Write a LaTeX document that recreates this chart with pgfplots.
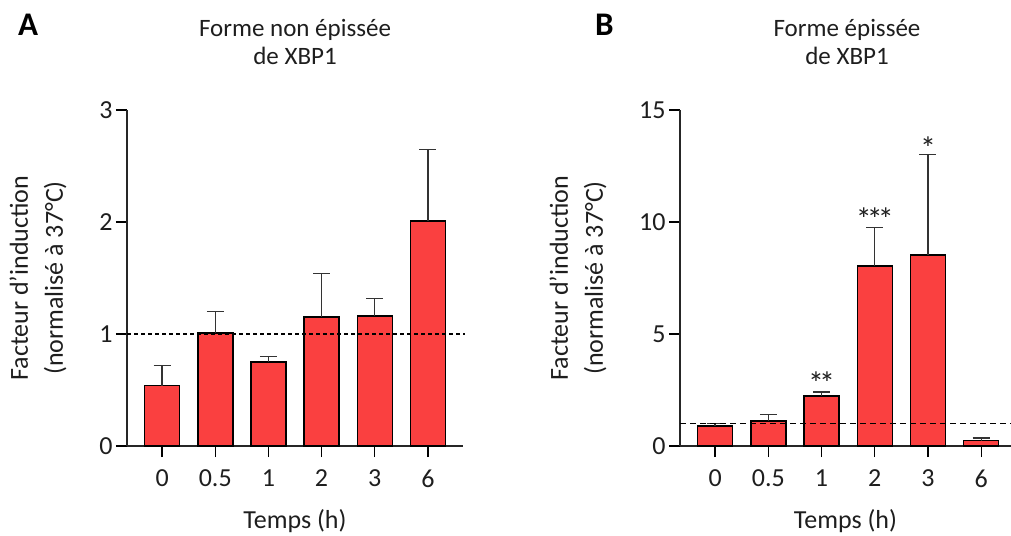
\documentclass[border=0pt]{standalone}
\usepackage{fontspec}
\setmainfont{Carlito}
\usepackage{pgfplots}
\pgfplotsset{compat=1.18}
\definecolor{barred}{RGB}{250,64,64}
\definecolor{txt}{RGB}{30,30,30}

\pgfplotstableread{
x y e
0 0.54 0.18
1 1.01 0.19
2 0.75 0.05
3 1.15 0.39
4 1.16 0.16
5 2.01 0.64
}\dataA
\pgfplotstableread{
x y e
0 0.89 0.12
1 1.12 0.29
2 2.23 0.18
3 8.04 1.71
4 8.53 4.47
5 0.24 0.12
}\dataB

\tikzset{starnode/.style={anchor=base, font=\fontsize{32}{32}\selectfont, text=txt}}

\pgfplotsset{
 myaxis/.style={
  scale only axis, height=336pt,
  axis x line*=bottom, axis y line*=left,
  axis line style={line width=1.4pt, black!85},
  tick align=outside,
  major tick length=11pt,
  tick style={line width=1.4pt, black},
  xtick={0,...,5}, xticklabels={0,0.5,1,2,3,6},
  xmin=-0.66, ymin=0,
  ticklabel style={font=\fontsize{26}{26}\selectfont, text=txt},
  /pgf/number format/assume math mode=true,
  xticklabel style={yshift=-9pt},
  xlabel={Temps (h)},
  xlabel style={at={(axis description cs:0.5,0)}, anchor=base, yshift=-82pt, font=\fontsize{26}{26}\selectfont, text=txt},
  ylabel={Facteur d'induction\\(normalisé à 37°C)},
  ylabel style={align=center, at={(axis description cs:0,0.5)}, anchor=south, font=\fontsize{26}{35}\selectfont, text=txt},
  clip=false,
 },
 mybar/.style={ybar, bar width=35pt, fill=barred, draw=black, line width=1.5pt,
   error bars/.cd, y dir=plus, y explicit,
   error bar style={line width=1.3pt, black!80},
   error mark options={rotate=90, mark size=8.5pt, line width=1.3pt, black!80}},
}

\begin{document}
\begin{tikzpicture}[x=1pt,y=1pt]
\useasboundingbox (0,0) rectangle (1011,535);

% Panel A
\begin{axis}[myaxis, at={(127pt,89pt)}, anchor=south west,
  width=336pt, xmax=5.66, ymax=3, ytick={0,1,2,3},
  ylabel style={yshift=57pt}]
\addplot[mybar] table[x=x,y=y,y error=e] {\dataA};
\addplot[black, line width=2pt, dash pattern=on 4pt off 3pt] coordinates {(-0.66,1) (5.7,1)};
\end{axis}

% Panel B
\begin{axis}[myaxis, at={(680pt,89pt)}, anchor=south west,
  width=331pt, xmax=5.56, ymax=15, ytick={0,5,10,15},
  ylabel style={yshift=70pt}]
\addplot[mybar] table[x=x,y=y,y error=e] {\dataB};
\addplot[black, line width=1.3pt, dash pattern=on 6pt off 4pt] coordinates {(-0.66,1.02) (5.56,1.02)};
\node[starnode] at (axis cs:2,2.32) {*\kern-5pt*};
\node[starnode] at (axis cs:3,9.62) {*\kern-5pt*\kern-5pt*};
\node[starnode] at (axis cs:4,12.8) {*};
\end{axis}

% Titles and panel letters
\node[anchor=base, font=\fontsize{25}{25}\selectfont, text=txt] at (295,498) {Forme non épissée};
\node[anchor=base, font=\fontsize{25}{25}\selectfont, text=txt] at (295,470) {de XBP1};
\node[anchor=base, font=\fontsize{25}{25}\selectfont, text=txt] at (847,498) {Forme épissée};
\node[anchor=base, font=\fontsize{25}{25}\selectfont, text=txt] at (847,470) {de XBP1};
\node[anchor=base west, inner sep=0pt, font=\bfseries\fontsize{33}{33}\selectfont] at (18,499) {A};
\node[anchor=base west, inner sep=0pt, font=\bfseries\fontsize{33}{33}\selectfont] at (595,499) {B};
\end{tikzpicture}
\end{document}
